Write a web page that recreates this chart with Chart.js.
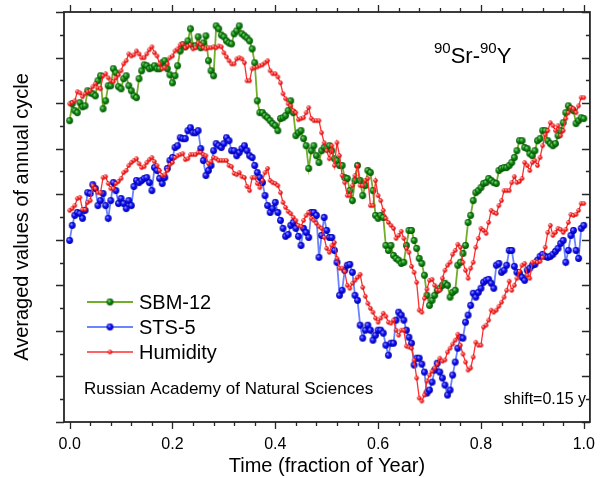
<!DOCTYPE html>
<html><head><meta charset="utf-8">
<script src="https://cdn.jsdelivr.net/npm/chart.js@4.4.1/dist/chart.umd.min.js"></script>
<style>html,body{margin:0;padding:0;background:#fff;}canvas{display:block;}</style>
</head><body>
<canvas id="c" width="608" height="478"></canvas>
<script>
// ---- data (arbitrary units, axis 0..18) ----
// samples at whole hundredths of the year ...
const times = [0.00,0.01,0.02,0.03,0.04,0.05,0.06,0.07,0.08,0.09,
0.10,0.11,0.12,0.13,0.14,0.15,0.16,0.17,0.18,0.19,
0.20,0.21,0.22,0.23,0.24,0.25,0.26,0.27,0.28,0.29,
0.30,0.31,0.32,0.33,0.34,0.35,0.36,0.37,0.38,0.39,
0.40,0.41,0.42,0.43,0.44,0.45,0.46,0.47,0.48,0.49,
0.50,0.51,0.52,0.53,0.54,0.55,0.56,0.57,0.58,0.59,
0.60,0.61,0.62,0.63,0.64,0.65,0.66,0.67,0.68,0.69,
0.70,0.71,0.72,0.73,0.74,0.75,0.76,0.77,0.78,0.79,
0.80,0.81,0.82,0.83,0.84,0.85,0.86,0.87,0.88,0.89,
0.90,0.91,0.92,0.93,0.94,0.95,0.96,0.97,0.98,0.99,
1.00];
// ... and the samples lying between them
const midTimes = [0.005,0.015,0.025,0.035,0.045,0.055,0.065,0.075,0.085,0.095,
0.105,0.115,0.125,0.135,0.145,0.155,0.165,0.175,0.185,0.195,
0.205,0.215,0.225,0.235,0.245,0.255,0.265,0.275,0.285,0.295,
0.305,0.315,0.325,0.335,0.345,0.355,0.365,0.375,0.385,0.395,
0.405,0.415,0.425,0.435,0.445,0.455,0.465,0.475,0.485,0.495,
0.505,0.515,0.525,0.535,0.545,0.555,0.565,0.575,0.585,0.595,
0.605,0.615,0.625,0.635,0.645,0.655,0.665,0.675,0.685,0.695,
0.705,0.715,0.725,0.735,0.745,0.755,0.765,0.775,0.785,0.795,
0.805,0.815,0.825,0.835,0.845,0.855,0.865,0.875,0.885,0.895,
0.905,0.915,0.925,0.935,0.945,0.955,0.965,0.975,0.985,0.995];

const sbm12 = [13.23,13.67,14.02,13.88,14.45,14.32,15.20,14.10,14.76,15.33,
14.63,15.20,14.54,14.24,15.42,15.64,15.55,15.51,15.77,15.51,
14.89,15.64,16.56,16.73,16.51,16.91,16.64,15.86,15.20,17.26,
16.91,16.64,17.04,17.39,16.95,16.73,15.77,13.58,13.45,13.23,
13.01,13.32,13.45,14.10,12.57,12.79,12.13,11.91,11.69,11.91,
12.00,11.91,11.48,11.26,10.69,9.72,11.26,9.94,11.04,10.16,
8.94,8.98,7.53,7.31,7.10,7.01,8.41,7.97,7.18,6.44,
5.12,5.56,5.87,6.09,5.48,5.78,7.01,7.75,9.07,10.07,
10.29,10.51,10.60,10.47,11.13,11.17,11.39,11.91,12.35,12.00,
11.69,12.35,12.79,12.35,12.13,12.57,13.14,13.88,13.67,13.23,
13.32];
const sbm12Mid = [13.97,13.58,13.84,14.54,14.41,14.98,13.75,14.76,15.51,14.72,
15.07,14.76,14.32,15.07,15.68,15.51,15.64,15.51,15.86,15.24,
15.20,16.29,16.47,17.26,16.51,16.43,16.95,15.42,17.39,16.99,
16.73,16.60,17.17,17.04,16.86,16.38,14.10,13.58,13.36,13.10,
12.79,13.36,13.67,13.58,12.70,12.44,11.13,12.13,11.39,12.05,
12.13,11.56,11.26,10.73,10.16,10.60,10.60,10.38,10.95,9.07,
9.07,7.75,7.75,7.18,6.96,7.75,8.41,7.62,6.96,5.56,
5.34,5.78,6.00,6.00,5.69,6.88,7.40,8.76,9.72,10.16,
10.47,10.69,10.51,11.04,11.17,11.26,11.61,12.35,12.05,11.78,
11.91,12.44,12.79,12.22,12.22,12.79,13.58,13.75,13.10,13.36];

const sts5 = [7.97,9.07,9.15,9.29,10.03,10.25,9.72,9.50,9.72,10.16,
9.81,9.37,9.50,10.60,10.60,10.73,10.16,11.04,10.47,11.13,
11.61,12.13,12.44,12.79,12.70,12.79,11.48,11.04,11.91,12.13,
12.22,12.35,11.91,11.83,12.13,11.69,11.26,10.73,9.94,9.20,
9.64,8.85,8.15,8.63,8.50,7.75,8.32,9.20,9.07,8.19,
8.41,8.10,7.01,5.78,6.88,6.57,5.34,3.68,4.25,3.59,
4.03,3.90,2.93,3.46,4.82,4.47,3.72,2.50,2.80,2.19,
1.40,2.28,2.19,1.62,1.40,2.63,3.72,4.38,5.12,5.48,
5.87,6.22,6.09,6.88,6.57,6.88,7.53,6.57,6.35,6.66,
6.88,7.10,7.36,7.23,7.36,7.62,7.97,7.53,8.41,7.18,
8.63];
const sts5Mid = [8.63,9.20,8.94,10.07,10.42,9.50,10.03,8.94,10.51,9.59,
9.59,9.72,10.34,10.51,10.69,10.51,11.17,10.69,10.73,11.48,
12.05,12.48,12.44,12.92,12.70,12.00,10.82,11.26,12.22,12.05,
12.48,11.91,11.69,12.00,11.91,11.61,10.95,10.51,9.50,9.37,
9.20,8.50,8.23,8.76,8.15,8.50,8.10,9.20,7.23,8.98,
8.10,7.53,5.56,6.66,6.92,5.56,4.25,4.03,4.03,3.81,
4.03,3.37,3.46,4.47,4.69,4.03,3.46,2.80,2.54,1.27,
1.75,2.58,1.93,1.18,2.06,3.24,3.68,4.69,5.65,5.69,
6.13,6.26,5.87,6.96,6.66,7.53,6.83,6.53,6.22,6.75,
6.92,7.27,7.27,7.27,7.49,7.84,7.01,8.19,7.53,8.50];

// Humidity, drawn twice: once beside SBM-12 (upper) and once beside STS-5 (lower)
const humidityUpper = [13.97,14.10,14.45,14.41,14.54,14.85,14.63,15.29,14.98,15.11,
15.42,15.86,16.07,16.29,15.99,16.16,16.47,16.07,15.51,15.72,
16.07,16.38,16.60,16.51,16.38,16.64,16.43,16.43,16.47,16.51,
16.21,15.86,15.72,15.99,15.77,14.98,15.55,15.64,15.77,15.42,
15.29,14.89,14.19,13.88,13.58,13.32,13.58,13.32,13.23,12.70,
11.91,12.13,12.26,10.82,9.94,10.38,11.26,10.38,10.69,9.50,
9.94,9.29,8.76,8.50,8.19,8.06,7.45,6.57,4.91,5.43,
6.22,6.00,5.78,6.66,7.01,7.53,7.67,6.66,6.75,7.67,
8.50,8.28,9.29,9.15,9.72,10.16,10.51,10.51,10.69,11.26,
11.39,11.26,12.13,12.79,13.01,13.01,12.79,13.58,13.75,13.88,
14.24];
const humidityUpperMid = [14.02,14.50,14.28,14.50,14.72,14.67,15.20,15.11,14.94,15.24,
15.72,16.16,16.12,16.16,15.99,16.34,16.21,15.72,15.55,15.99,
16.29,16.56,16.43,16.56,16.43,16.56,16.38,16.43,16.43,16.47,
16.03,15.72,15.94,15.94,14.98,15.51,15.59,15.68,15.86,15.29,
15.15,14.41,13.97,13.67,13.27,13.36,13.80,13.23,13.23,12.26,
11.56,11.26,11.69,10.51,9.94,10.82,10.38,10.60,9.50,10.60,
9.72,8.94,8.63,8.06,8.37,7.62,6.83,6.13,4.82,5.83,
6.26,5.78,6.31,6.88,7.36,7.80,7.01,6.31,7.01,8.06,
8.41,8.76,9.20,9.50,10.16,10.16,10.77,10.56,11.39,11.04,
11.48,11.61,12.61,13.14,12.79,12.57,13.32,13.80,13.58,14.24];

const humidityLower = [9.29,9.50,9.86,9.33,9.72,10.25,10.07,10.77,10.25,10.47,
10.69,11.04,11.39,11.56,11.17,11.39,11.61,11.26,10.82,11.04,
11.39,11.69,11.78,11.56,11.74,11.83,11.74,11.34,11.61,11.48,
11.48,11.26,10.91,10.95,10.73,10.16,10.73,10.29,10.95,10.60,
10.47,10.07,9.42,9.15,8.85,8.58,9.07,8.94,8.72,8.50,
7.62,7.75,7.18,6.75,6.00,6.09,6.35,5.91,5.21,4.82,
4.38,4.77,4.38,4.47,3.81,4.03,3.29,2.72,1.05,1.18,
2.06,2.37,2.80,2.72,3.24,3.59,3.37,2.63,2.37,3.50,
3.37,4.25,4.91,4.91,5.26,5.78,5.78,6.31,6.88,6.44,
7.01,7.01,7.23,8.32,8.19,8.50,8.32,8.76,9.07,9.29,
9.59];
const humidityLowerMid = [9.37,9.81,9.33,9.64,10.38,10.07,10.73,10.47,10.25,10.56,
10.95,11.26,11.48,11.34,11.21,11.52,11.43,11.04,10.86,11.30,
11.61,11.74,11.52,11.74,11.74,11.83,11.69,11.43,11.56,11.48,
11.48,11.21,10.86,10.77,10.34,10.73,10.47,10.60,11.13,10.51,
10.38,9.64,9.24,8.98,8.63,8.85,9.20,8.85,8.58,8.10,
7.45,7.88,6.75,6.61,5.87,6.22,6.48,5.52,4.99,4.56,
4.56,4.64,4.34,4.03,4.03,3.33,3.24,1.93,0.92,1.80,
2.23,2.54,2.67,3.07,3.42,3.85,2.98,2.28,2.85,3.37,
4.16,4.47,4.82,5.08,5.48,6.18,6.00,6.61,6.96,6.31,
7.05,7.05,7.67,8.63,8.32,8.45,8.45,9.11,9.11,9.59];

const seriesNames = ['SBM-12', 'STS-5', 'Humidity'];
const xTickValues = [0.0, 0.2, 0.4, 0.6, 0.8, 1.0];
const xTickLabels = ['0.0', '0.2', '0.4', '0.6', '0.8', '1.0'];
const xTitle = 'Time (fraction of Year)';
const yTitle = 'Averaged values of annual cycle';
const noteLab = 'Russian Academy of Natural Sciences';
const noteShift = 'shift=0.15 y';

// ---- styles ----
const FONT = "'Liberation Sans', Arial, Helvetica, sans-serif";
function sphere(r, light, base, dark) {
  const s = Math.ceil(r * 2 + 2);
  const c = document.createElement('canvas');
  c.width = s; c.height = s;
  const g = c.getContext('2d');
  const cx = s / 2, cy = s / 2;
  const grad = g.createRadialGradient(cx - r * 0.35, cy - r * 0.4, r * 0.05, cx, cy, r);
  grad.addColorStop(0, light);
  grad.addColorStop(0.5, base);
  grad.addColorStop(1, dark);
  g.fillStyle = grad;
  g.beginPath(); g.arc(cx, cy, r, 0, Math.PI * 2); g.fill();
  return c;
}
const ptGreen = sphere(3.4, '#8fe08f', '#0f8a0f', '#034f03');
const ptBlue = sphere(3.4, '#a0a0ff', '#1010ff', '#00009a');
const ptRed = sphere(2.2, '#ffd6d6', '#ff2a2a', '#d00000');

const COL = { green: '#74ac2c', blue: '#6a84ff', red: '#ff3030' };

// merge the whole-hundredth samples with the in-between samples, in time order
function pts(main, mid) {
  const out = [];
  for (let i = 0; i < times.length; i++) {
    out.push({ x: times[i], y: main[i] });
    if (i < midTimes.length) out.push({ x: midTimes[i], y: mid[i] });
  }
  return out;
}

const decorPlugin = {
  id: 'decor',
  afterDatasetsDraw(chart) {
    const { ctx, chartArea: a, scales: { x, y } } = chart;
    ctx.save();
    ctx.strokeStyle = '#262626';
    ctx.lineWidth = 1.8;
    ctx.strokeRect(a.left, a.top, a.right - a.left, a.bottom - a.top);
    ctx.lineWidth = 1.3;
    ctx.beginPath();
    for (let k = 0; k <= 25; k++) {
      const v = k * 0.04;
      const px = Math.round(x.getPixelForValue(v)) + 0.5;
      const L = k % 5 === 0 ? 7 : 4;
      ctx.moveTo(px, a.bottom); ctx.lineTo(px, a.bottom + L);
      ctx.moveTo(px, a.top); ctx.lineTo(px, a.top - L);
    }
    for (let k = 0; k <= 18; k++) {
      const py = Math.round(y.getPixelForValue(k)) + 0.5;
      const L = k % 2 === 0 ? 8 : 4;
      ctx.moveTo(a.left, py); ctx.lineTo(a.left - L, py);
      ctx.moveTo(a.right, py); ctx.lineTo(a.right - L, py);
    }
    ctx.stroke();

    const legend = [
      { name: seriesNames[0], col: COL.green, img: ptGreen, lw: 2 },
      { name: seriesNames[1], col: COL.blue, img: ptBlue, lw: 2 },
      { name: seriesNames[2], col: COL.red, img: ptRed, lw: 1.5 }
    ];
    ctx.font = '20px ' + FONT;
    ctx.textBaseline = 'middle';
    legend.forEach((e, i) => {
      const ly = 302 + i * 25;
      ctx.strokeStyle = e.col; ctx.lineWidth = e.lw;
      ctx.beginPath(); ctx.moveTo(87, ly); ctx.lineTo(133, ly); ctx.stroke();
      ctx.drawImage(e.img, 110 - e.img.width / 2, ly - e.img.height / 2);
      ctx.fillStyle = '#000';
      ctx.fillText(e.name, 139, ly + 1);
    });

    ctx.font = '17px ' + FONT;
    ctx.fillText(noteLab, 84, 389);
    ctx.font = '16px ' + FONT;
    ctx.textAlign = 'right';
    ctx.fillText(noteShift, 586, 400);
    ctx.textAlign = 'left';

    ctx.textBaseline = 'alphabetic';
    let tx = 434;
    const parts = [['90', 15, 53], ['Sr-', 22, 63], ['90', 15, 53], ['Y', 22, 63]];
    parts.forEach(([t, fs, by]) => {
      ctx.font = fs + 'px ' + FONT;
      ctx.fillText(t, tx, by);
      tx += ctx.measureText(t).width;
    });
    ctx.restore();
  }
};

new Chart(document.getElementById('c').getContext('2d'), {
  type: 'line',
  data: {
    datasets: [
      { label: seriesNames[2], data: pts(humidityUpper, humidityUpperMid), borderColor: COL.red, borderWidth: 1.3,
        pointStyle: ptRed, pointRadius: 2.2, order: 1 },
      { label: seriesNames[2] + ' ', data: pts(humidityLower, humidityLowerMid), borderColor: COL.red, borderWidth: 1.3,
        pointStyle: ptRed, pointRadius: 2.2, order: 1 },
      { label: seriesNames[0], data: pts(sbm12, sbm12Mid), borderColor: COL.green, borderWidth: 1.8,
        pointStyle: ptGreen, pointRadius: 3.4, order: 2 },
      { label: seriesNames[1], data: pts(sts5, sts5Mid), borderColor: COL.blue, borderWidth: 1.8,
        pointStyle: ptBlue, pointRadius: 3.4, order: 2 }
    ]
  },
  options: {
    responsive: false,
    animation: false,
    devicePixelRatio: 1,
    layout: { padding: { top: 12, right: 10, left: 0, bottom: 0 } },
    elements: { line: { tension: 0 } },
    plugins: { legend: { display: false }, tooltip: { enabled: false } },
    scales: {
      x: {
        type: 'linear', min: -0.011, max: 1.012,
        grid: { display: false, drawTicks: false },
        border: { display: false },
        afterBuildTicks: s => { s.ticks = xTickValues.map(v => ({ value: v })); },
        ticks: { padding: 13, color: '#000', font: { family: FONT, size: 16 },
          callback: (v, i) => xTickLabels[i] },
        title: { display: true, text: xTitle, color: '#000',
          font: { family: FONT, size: 20, lineHeight: 1.2 }, padding: { top: 0, bottom: 0 } },
        afterFit: s => { s.height = 56; }
      },
      y: {
        type: 'linear', min: 0, max: 18,
        grid: { display: false, drawTicks: false },
        border: { display: false },
        ticks: { display: false },
        title: { display: true, text: yTitle, color: '#000',
          font: { family: FONT, size: 20, lineHeight: 1.2 }, padding: { top: 10, bottom: 0 } },
        afterFit: s => { s.width = 64; }
      }
    }
  },
  plugins: [decorPlugin]
});
</script>
</body></html>
